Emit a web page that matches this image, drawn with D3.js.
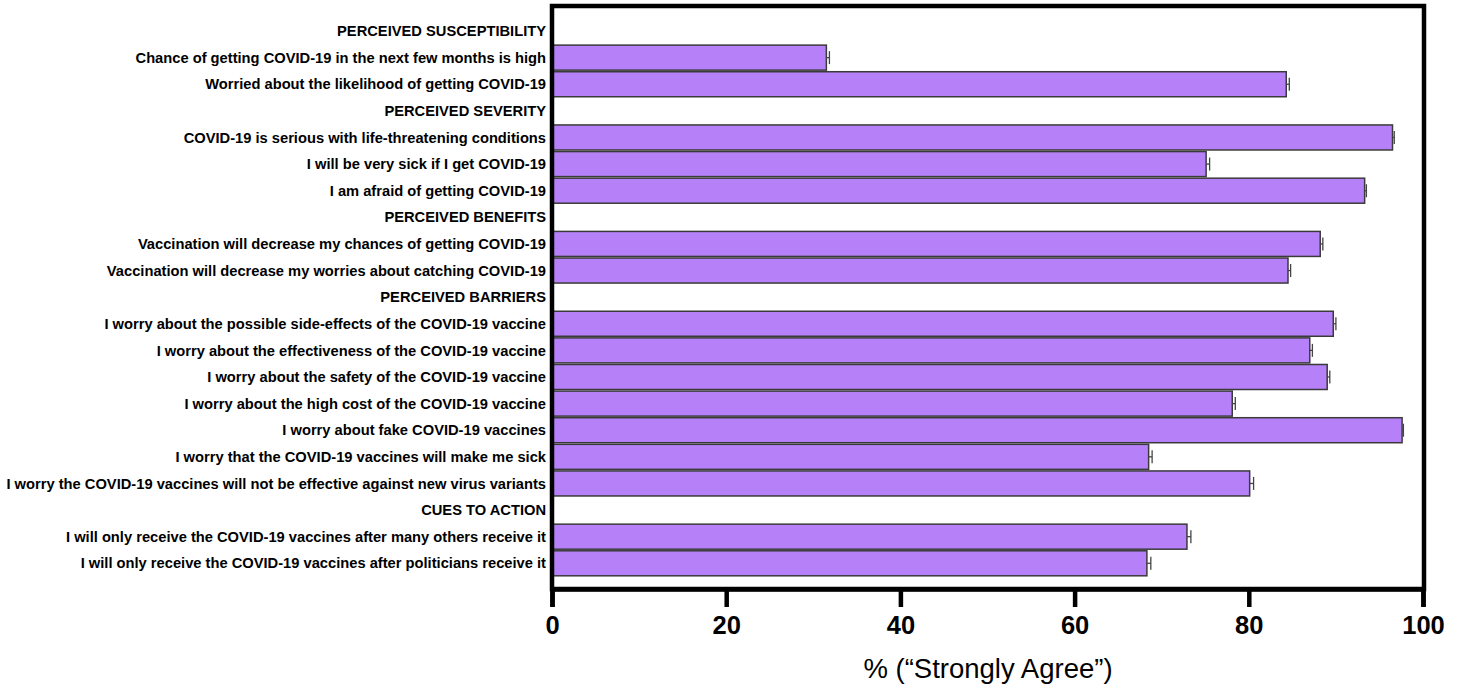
<!DOCTYPE html>
<html>
<head>
<meta charset="utf-8">
<script src="https://cdn.jsdelivr.net/npm/d3@7"></script>
<style>
  body { margin: 0; background: #fff; }
  svg text { font-family: "Liberation Sans", Arial, sans-serif; }
</style>
</head>
<body>
<script>

// row labels, top to bottom (headers have no value)
let rowLabels = [
    "PERCEIVED SUSCEPTIBILITY",
    "Chance of getting COVID-19 in the next few months is high",
    "Worried about the likelihood of getting COVID-19",
    "PERCEIVED SEVERITY",
    "COVID-19 is serious with life-threatening conditions",
    "I will be very sick if I get COVID-19",
    "I am afraid of getting COVID-19",
    "PERCEIVED BENEFITS",
    "Vaccination will decrease my chances of getting COVID-19",
    "Vaccination will decrease my worries about catching COVID-19",
    "PERCEIVED BARRIERS",
    "I worry about the possible side-effects of the COVID-19 vaccine",
    "I worry about the effectiveness of the COVID-19 vaccine",
    "I worry about the safety of the COVID-19 vaccine",
    "I worry about the high cost of the COVID-19 vaccine",
    "I worry about fake COVID-19 vaccines",
    "I worry that the COVID-19 vaccines will make me sick",
    "I worry the COVID-19 vaccines will not be effective against new virus variants",
    "CUES TO ACTION",
    "I will only receive the COVID-19 vaccines after many others receive it",
    "I will only receive the COVID-19 vaccines after politicians receive it"
]

// % strongly agree (null = section header)
let pctValues = [
    null, 31.5, 84.3,
    null, 96.5, 75.1, 93.3,
    null, 88.2, 84.5,
    null, 89.7, 87.0, 89.0, 78.1, 97.6, 68.5, 80.1,
    null, 72.9, 68.3
]

// error bar half-widths
let errValues = [
    null, 0.35, 0.35,
    null, 0.2, 0.4, 0.2,
    null, 0.3, 0.3,
    null, 0.3, 0.3, 0.3, 0.35, 0.15, 0.4, 0.45,
    null, 0.45, 0.45
]

let xTicks = [0, 20, 40, 60, 80, 100]

let width = 1465
let height = 687
let plotLeft = 552
let plotRight = 1424
let plotTop = 6
let plotBottom = 589

let svg = d3.select("body")
            .append("svg")
            .attr("width", width)
            .attr("height", height)

let xScale = d3.scaleLinear()
                .domain([0, 100])
                .range([plotLeft, plotRight - 1])

let yScale = d3.scaleBand()
                .domain(d3.range(rowLabels.length))
                .range([17.7, 576.6])
                .paddingInner(0.06)
                .paddingOuter(0.03)

let rows = rowLabels.map((label, i) => {
    return { label: label, value: pctValues[i], err: errValues[i], i: i }
})
let barRows = rows.filter(d => d.value !== null)

// bars
svg.selectAll("rect.bar")
    .data(barRows)
    .enter()
    .append("rect")
    .attr("class", "bar")
    .attr("x", xScale(0))
    .attr("y", d => yScale(d.i))
    .attr("width", d => xScale(d.value) - xScale(0))
    .attr("height", yScale.bandwidth())
    .attr("fill", "#b680f9")
    .attr("stroke", "#3a3a3a")
    .attr("stroke-width", 1.5)

// error bars
let errs = svg.selectAll("g.err")
    .data(barRows)
    .enter()
    .append("g")
    .attr("class", "err")
    .attr("stroke", "#444")
    .attr("stroke-width", 1.3)

errs.append("line")
    .attr("x1", d => xScale(d.value))
    .attr("x2", d => xScale(d.value + d.err))
    .attr("y1", d => yScale(d.i) + yScale.bandwidth() / 2)
    .attr("y2", d => yScale(d.i) + yScale.bandwidth() / 2)

errs.append("line")
    .attr("x1", d => xScale(d.value + d.err))
    .attr("x2", d => xScale(d.value + d.err))
    .attr("y1", d => yScale(d.i) + yScale.bandwidth() / 2 - 6.5)
    .attr("y2", d => yScale(d.i) + yScale.bandwidth() / 2 + 6.5)

// row labels
svg.selectAll("text.row")
    .data(rows)
    .enter()
    .append("text")
    .attr("class", "row")
    .attr("x", plotLeft - 6)
    .attr("y", d => yScale(d.i) + yScale.bandwidth() / 2)
    .attr("dy", "0.35em")
    .attr("text-anchor", "end")
    .attr("font-size", "14.7px")
    .attr("font-weight", "bold")
    .attr("fill", "#000")
    .text(d => d.label)

// frame
svg.append("rect")
    .attr("x", plotLeft)
    .attr("y", plotTop)
    .attr("width", plotRight - plotLeft)
    .attr("height", plotBottom - plotTop)
    .attr("fill", "none")
    .attr("stroke", "#000")
    .attr("stroke-width", 4.5)

// x axis
let xAxis = d3.axisBottom(xScale)
                .tickValues(xTicks)
                .tickSize(18)
                .tickPadding(9)

let gx = svg.append("g")
    .attr("id", "x-axis")
    .attr("transform", "translate(0," + plotBottom + ")")
    .call(xAxis)

gx.select(".domain")
    .attr("stroke-width", 4.5)
gx.selectAll(".tick line")
    .attr("stroke-width", 4.5)
gx.selectAll(".tick text")
    .attr("font-size", "25.5px")
    .attr("font-weight", "bold")
    .attr("fill", "#000")
    .style("font-family", "'Liberation Sans', Arial, sans-serif")

svg.append("text")
    .attr("x", (plotLeft + plotRight) / 2)
    .attr("y", 678)
    .attr("text-anchor", "middle")
    .attr("font-size", "27.5px")
    .attr("fill", "#000")
    .text("% (\u201CStrongly Agree\u201D)")

</script>
</body>
</html>
